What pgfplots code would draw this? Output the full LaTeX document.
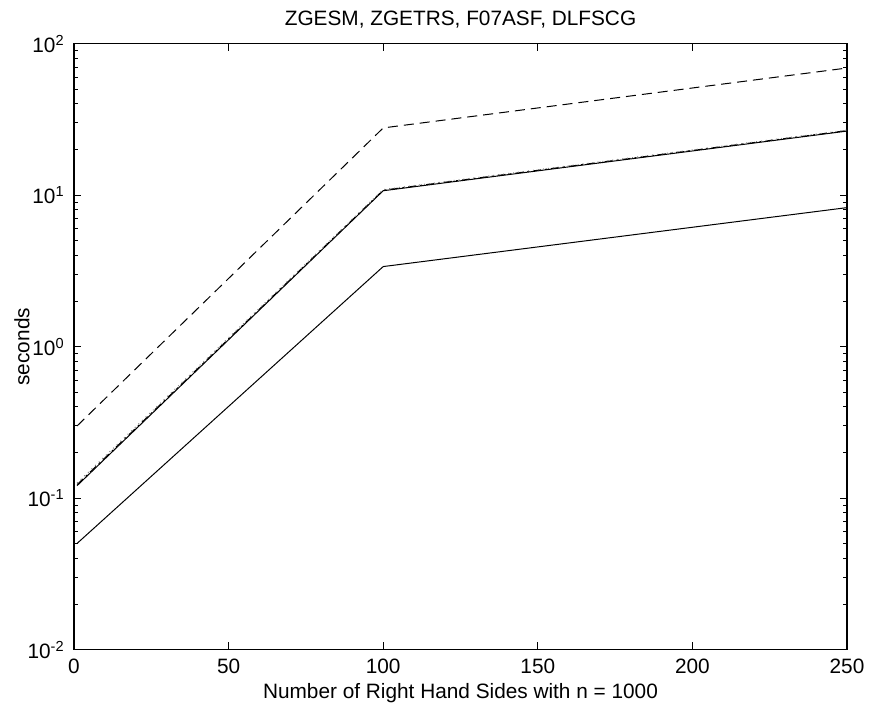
\documentclass[border=0pt]{standalone}
\usepackage{pgfplots}
\pgfplotsset{compat=1.18}
\usepackage{fontspec}
\setmainfont{Liberation Sans}
\begin{document}
\fontsize{10.4}{12}\selectfont
\begin{tikzpicture}
\begin{axis}[
  at={(0,0)}, anchor=south west,
  scale only axis,
  width=386.5pt, height=303pt,
  ymode=log,
  xmin=0, xmax=250, ymin=0.01, ymax=100,
  xtick={0,50,100,150,200,250},
  ytick={0.01,0.1,1,10,100},
  yticklabels={10\textsuperscript{-2},10\textsuperscript{-1},10\textsuperscript{0},10\textsuperscript{1},10\textsuperscript{2}},
  /pgf/number format/assume math mode=true,
  tick align=inside,
  major tick length=3.7pt,
  minor tick length=2pt,
  tick style={line width=0.5pt, black},
  axis line style={line width=0.6pt},
  xticklabel style={yshift=-1pt},
  yticklabel style={xshift=-1pt},
  title={ZGESM, ZGETRS, F07ASF, DLFSCG},
  title style={at={(0.5,1)}, anchor=center, yshift=6pt},
  xlabel={Number of Right Hand Sides with n = 1000},
  xlabel style={at={(0.5,0)}, anchor=center, yshift=-21.6pt},
  ylabel={seconds},
  ylabel style={at={(-0.0673,0.5)}, anchor=center},
  every axis plot/.append style={line width=0.5pt, black, no markers},
]
\addplot[dash pattern=on 5pt off 3pt] coordinates {(1,0.30) (100,27.8) (250,69.1)};
\addplot[solid] coordinates {(1,0.121) (100,10.7) (250,26.5)};
\addplot[dash pattern=on 4pt off 2pt on 1pt off 2pt] coordinates {(1,0.123) (100,10.8) (250,26.7)};
\addplot[dotted, gray] coordinates {(1,0.126) (100,10.9) (250,26.9)};
\addplot[solid] coordinates {(1,0.0503) (100,3.38) (250,8.28)};
\end{axis}
\pgfresetboundingbox
\useasboundingbox (-37pt,-27.85pt) rectangle (398pt,324.85pt);
\end{tikzpicture}
\end{document}
